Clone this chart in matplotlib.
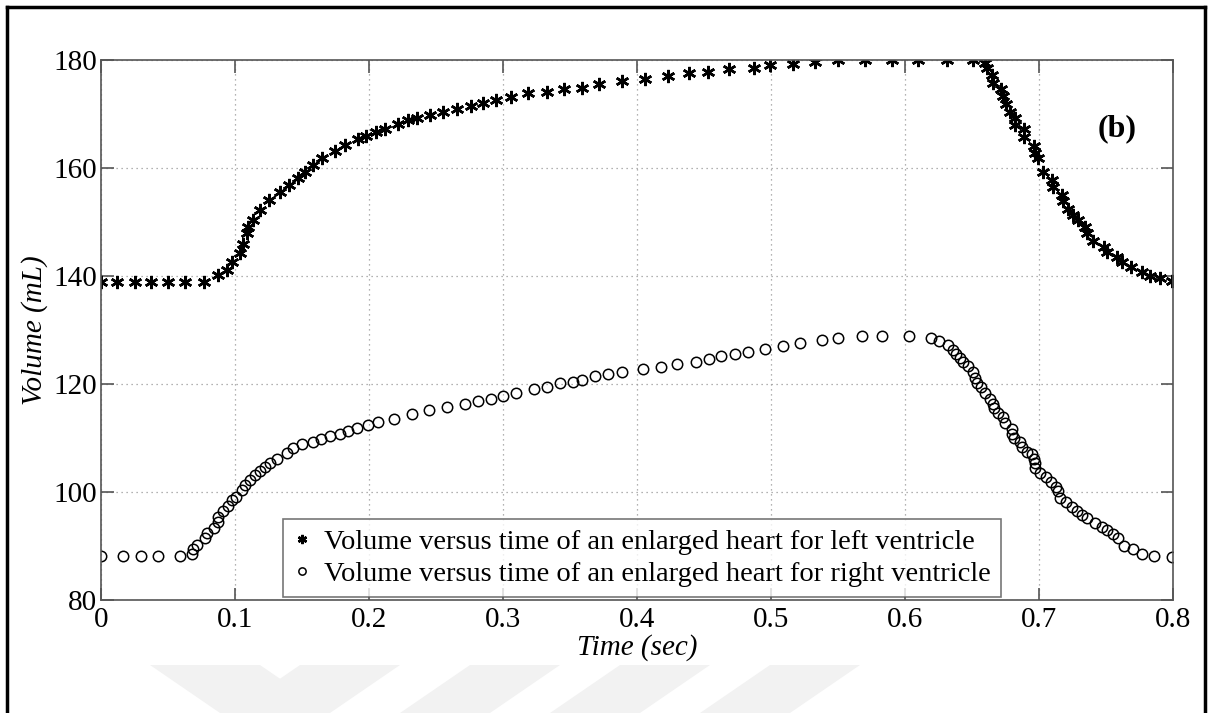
import numpy as np
import matplotlib
matplotlib.use('Agg')
import matplotlib.pyplot as plt
from matplotlib.lines import Line2D
from matplotlib.patches import Polygon

# Left ventricle (asterisks): time (s), volume (mL)
t_left = [0.0, 0.012, 0.025, 0.037, 0.050, 0.063, 0.077, 0.087, 0.094, 0.0975,
          0.1037, 0.106, 0.109, 0.110, 0.1137, 0.1187, 0.125, 0.1336, 0.140, 0.147,
          0.152, 0.158, 0.165, 0.1746, 0.182, 0.192, 0.198, 0.205, 0.212, 0.222,
          0.229, 0.236, 0.2455, 0.2555, 0.2655, 0.276, 0.285, 0.295, 0.3057, 0.319,
          0.3326, 0.3458, 0.359, 0.372, 0.389, 0.406, 0.423, 0.439, 0.4527, 0.469,
          0.487, 0.499, 0.5166, 0.533, 0.550, 0.570, 0.590, 0.610, 0.631, 0.651,
          0.660, 0.661, 0.6647, 0.6654, 0.6714, 0.673, 0.6754, 0.678, 0.682, 0.682,
          0.689, 0.689, 0.696, 0.697, 0.6995, 0.7027, 0.7094, 0.7107, 0.717, 0.7176,
          0.722, 0.725, 0.729, 0.734, 0.7356, 0.7406, 0.7485, 0.7505, 0.758, 0.7617,
          0.769, 0.7766, 0.783, 0.790, 0.799]
v_left = [138.8, 138.8, 138.8, 138.8, 138.8, 138.8, 138.9, 140.2, 141.1, 142.6,
          144.2, 146.0, 147.9, 149.1, 150.4, 152.2, 154.1, 155.6, 156.9, 158.1,
          159.3, 160.6, 161.8, 163.2, 164.3, 165.3, 165.9, 166.7, 167.3, 168.1,
          168.8, 169.2, 169.8, 170.3, 170.9, 171.5, 172.0, 172.6, 173.2, 173.8,
          174.1, 174.6, 174.9, 175.6, 176.1, 176.5, 177.0, 177.5, 177.8, 178.3,
          178.5, 179.1, 179.3, 179.6, 180.0, 180.0, 180.0, 180.0, 180.0, 180.0,
          179.4, 178.5, 177.2, 175.7, 174.6, 173.3, 171.9, 170.4, 169.2, 168.0,
          167.2, 165.7, 164.0, 162.8, 161.8, 159.3, 157.8, 156.5, 155.0, 153.8,
          152.5, 151.3, 150.4, 149.1, 147.9, 146.5, 145.4, 144.5, 143.6, 142.6,
          141.6, 140.8, 140.0, 139.6, 139.1]

# Right ventricle (circles): time (s), volume (mL)
t_right = [0.0, 0.0167, 0.0296, 0.0428, 0.059, 0.068, 0.069, 0.0714, 0.0776, 0.079,
           0.084, 0.087, 0.0876, 0.091, 0.095, 0.0975, 0.101, 0.105, 0.1075, 0.111,
           0.115, 0.1187, 0.1224, 0.126, 0.131, 0.1386, 0.1435, 0.150, 0.158, 0.164,
           0.171, 0.178, 0.184, 0.191, 0.1995, 0.2065, 0.219, 0.232, 0.245, 0.2585,
           0.2716, 0.281, 0.291, 0.300, 0.310, 0.323, 0.333, 0.3425, 0.352, 0.359,
           0.3687, 0.3786, 0.3886, 0.4047, 0.4177, 0.430, 0.444, 0.4537, 0.463, 0.473,
           0.483, 0.4955, 0.509, 0.5216, 0.5378, 0.550, 0.5677, 0.583, 0.603, 0.6194,
           0.6256, 0.6323, 0.636, 0.638, 0.641, 0.6435, 0.647, 0.651, 0.652, 0.654,
           0.6567, 0.6597, 0.6634, 0.6654, 0.6664, 0.6696, 0.673, 0.6746, 0.6796, 0.680,
           0.6813, 0.686, 0.687, 0.6908, 0.6945, 0.696, 0.697, 0.6973, 0.7007, 0.705,
           0.709, 0.7127, 0.7144, 0.716, 0.720, 0.7244, 0.728, 0.732, 0.736, 0.742,
           0.747, 0.7505, 0.7554, 0.7587, 0.7637, 0.770, 0.7766, 0.786, 0.799]
v_right = [88.2, 88.2, 88.2, 88.2, 88.2, 88.6, 89.4, 90.2, 91.4, 92.5,
           93.3, 94.5, 95.4, 96.4, 97.4, 98.5, 99.1, 100.4, 101.3, 102.2,
           103.1, 103.8, 104.7, 105.3, 106.2, 107.2, 108.1, 108.9, 109.3, 109.8,
           110.3, 110.7, 111.3, 111.8, 112.4, 113.0, 113.6, 114.4, 115.2, 115.8,
           116.3, 116.9, 117.2, 117.8, 118.4, 119.0, 119.5, 120.1, 120.4, 120.7,
           121.4, 121.9, 122.3, 122.7, 123.2, 123.7, 124.1, 124.6, 125.1, 125.6,
           126.0, 126.5, 127.1, 127.6, 128.1, 128.6, 128.8, 128.9, 128.9, 128.6,
           128.0, 127.2, 126.3, 125.6, 124.9, 124.1, 123.3, 122.3, 121.1, 120.2,
           119.4, 118.3, 117.3, 116.3, 115.5, 114.6, 113.8, 112.7, 111.6, 110.7,
           110.0, 109.3, 108.4, 107.5, 107.0, 106.2, 105.3, 104.4, 103.6, 102.8,
           101.9, 100.9, 100.1, 98.8, 98.2, 97.3, 96.5, 95.7, 95.1, 94.2,
           93.6, 93.0, 92.2, 91.4, 90.0, 89.4, 88.5, 88.1, 88.0]

x_ticks = [0, 0.1, 0.2, 0.3, 0.4, 0.5, 0.6, 0.7, 0.8]
x_labels = ['0', '0.1', '0.2', '0.3', '0.4', '0.5', '0.6', '0.7', '0.8']
y_ticks = [80, 100, 120, 140, 160, 180]

label_left = 'Volume versus time of an enlarged heart for left ventricle'
label_right = 'Volume versus time of an enlarged heart for right ventricle'

plt.rcParams['font.family'] = ['Liberation Serif', 'DejaVu Serif']

fig = plt.figure(figsize=(12.11, 7.13), dpi=100)
ax = fig.add_axes([101/1211, 113/713, 1072/1211, 540/713])

ax.plot(t_left, v_left, linestyle='none', marker=(6, 2, 0), markersize=9.5,
        markeredgewidth=1.8, color='black', label=label_left)
ax.plot(t_right, v_right, linestyle='none', marker='o', markersize=7.5,
        markerfacecolor='none', markeredgecolor='black', markeredgewidth=1.1,
        label=label_right)

ax.set_xlim(0, 0.8)
ax.set_ylim(80, 180)
ax.set_xticks(x_ticks)
ax.set_xticklabels(x_labels)
ax.set_yticks(y_ticks)
ax.tick_params(direction='in', length=9, width=1.2, color='#555555',
               top=True, right=True, labelsize=21, pad=3)
ax.tick_params(axis='x', pad=5)
ax.grid(True, linestyle=(0, (1, 3)), color='#999999', linewidth=0.9)
for s in ax.spines.values():
    s.set_color('#555555')
    s.set_linewidth(1.2)

ax.set_xlabel('Time (sec)', fontsize=21, fontstyle='italic', labelpad=1)
ax.set_ylabel('Volume (mL)', fontsize=21, fontstyle='italic', labelpad=4)
ax.text(0.758, 167.2, '(b)', fontsize=23, fontweight='bold', ha='center', va='center')

leg = ax.legend(loc='lower left', bbox_to_anchor=(182/1072, 3/540), fontsize=20.5,
                frameon=True, fancybox=False, handlelength=0.6, handletextpad=0.5,
                borderpad=0.35, labelspacing=0.22, borderaxespad=0,
                markerscale=0.7)
leg.get_frame().set_edgecolor('#555555')
leg.get_frame().set_linewidth(1.2)

# outer frame
fig.add_artist(Line2D([7/1211, 7/1211], [0, 1 - 7/713], color='black', linewidth=2.5))
fig.add_artist(Line2D([1205/1211, 1205/1211], [0, 1 - 7/713], color='black', linewidth=2.5))
fig.add_artist(Line2D([7/1211, 1205/1211], [1 - 7/713, 1 - 7/713], color='black', linewidth=2.5))

# faint watermark shapes at bottom
wm = [
    [(150, 665), (260, 665), (330, 713), (220, 713)],
    [(300, 665), (400, 665), (330, 713), (230, 713)],
    [(470, 665), (560, 665), (490, 713), (400, 713)],
    [(620, 665), (710, 665), (640, 713), (550, 713)],
    [(770, 665), (860, 665), (790, 713), (700, 713)],
]
for poly in wm:
    pts = [(x/1211, 1 - y/713) for x, y in poly]
    fig.add_artist(Polygon(pts, closed=True, facecolor='#f2f2f2', edgecolor='none',
                           zorder=-1))

fig.savefig('out.png', dpi=100)
